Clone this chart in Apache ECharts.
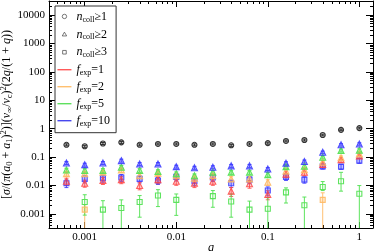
<!DOCTYPE html>
<html><head><meta charset="utf-8">
<script src="https://cdn.jsdelivr.net/npm/echarts@6/dist/echarts.min.js"></script>
<style>html,body{margin:0;padding:0;background:#fff}#c{width:374px;height:251px}</style>
</head><body><div id="c"></div>
<script>
// ---- data ----
const q = [0.000631,0.001,0.00158,0.00251,0.00398,0.00631,0.01,0.0158,0.0251,0.0398,0.0631,0.1,0.158,0.251,0.398,0.631,1];
// n_coll >= 1 (all f_exp coincide)
const nColl1    = [0.27,0.24,0.30,0.33,0.27,0.29,0.29,0.27,0.29,0.26,0.29,0.31,0.37,0.40,0.60,0.91,1.05];
const nColl1Err = [0.08,0.08,0.08,0.08,0.08,0.08,0.08,0.08,0.08,0.08,0.08,0.08,0.08,0.08,0.07,0.07,0.07];
// n_coll >= 2 (triangles)
const blueTri    = [0.062,0.054,0.062,0.075,0.057,0.057,0.046,0.042,0.044,0.049,0.049,0.038,0.061,0.070,0.147,0.27,0.29];
const blueTriErr = [0.12,0.12,0.12,0.12,0.12,0.12,0.12,0.12,0.12,0.12,0.12,0.12,0.12,0.12,0.10,0.10,0.10];
const greenTri    = [0.035,0.034,0.034,0.044,0.034,0.031,0.026,0.022,0.029,0.029,0.029,0.024,0.046,0.048,0.098,0.17,0.175];
const greenTriErr = [0.15,0.15,0.15,0.15,0.15,0.15,0.15,0.15,0.15,0.15,0.15,0.18,0.15,0.15,0.12,0.12,0.12];
const orangeTri    = [0.026,0.026,0.029,0.035,0.022,0.027,0.022,0.018,0.022,0.017,0.017,0.013,0.032,0.036,0.066,0.095,0.13];
const orangeTriErr = [0.18,0.18,0.18,0.18,0.2,0.18,0.18,0.2,0.18,0.2,0.2,0.22,0.18,0.18,0.15,0.15,0.15];
const redTri    = [0.014,0.012,0.015,0.016,0.010,0.016,0.014,0.012,0.014,0.0063,0.0114,0.0048,0.025,0.029,0.055,0.080,0.110];
const redTriErr = [0.28,0.28,0.28,0.28,0.3,0.28,0.28,0.3,0.28,0.35,0.3,0.35,0.25,0.25,0.2,0.2,0.2];
// n_coll >= 3 (squares)
const blueSq    = [0.012,0.017,0.018,0.019,0.017,0.015,0.020,0.014,0.019,0.012,0.016,0.0066,0.020,0.016,0.047,0.046,0.075];
const blueSqErr = [0.3,0.28,0.28,0.28,0.28,0.28,0.28,0.3,0.28,0.3,0.28,0.35,0.25,0.25,0.2,0.2,0.2];
const greenSq   = [null,0.0026,0.0014,0.0016,0.0026,0.0044,0.0031,null,0.0042,0.0027,0.0014,0.0015,0.0057,0.0020,0.0088,0.0141,0.0051];
const greenSqLo = [null,0.0009,0.0001,0.0001,0.00076,0.0018,0.00088,null,0.0017,0.00076,0.0001,0.0001,0.0024,0.0001,0.0066,0.0063,0.0001];
const greenSqHi = [null,0.0047,0.0029,0.0031,0.0044,0.0071,0.0050,null,0.0066,0.0050,0.0028,0.0037,0.0082,0.0039,0.0137,0.029,0.0099];
const orangeSq   = [null,0.0014,null,null,null,null,null,null,null,null,null,null,null,null,0.0031,null,null];
const orangeSqLo = [null,0.0001,null,null,null,null,null,null,null,null,null,null,null,null,0.0001,null,null];
const orangeSqHi = [null,0.0021,null,null,null,null,null,null,null,null,null,null,null,null,0.0055,null,null];

// ---- axis ticks ----
const xTickValues = [0.001,0.01,0.1,1];
const xTickLabels = ['0.001','0.01','0.1','1'];
const yTickValues = [0.001,0.01,0.1,1,10,100,1000,10000];
const yTickLabels = ['0.001','0.01','0.1','1','10','100','1000','10000'];
const legendNames = ['n1','n2','n3','f1','f2','f5','f10'];
const legendTexts = ['{i|n}{s|coll}{t|≥1}','{i|n}{s|coll}{t|≥2}','{i|n}{s|coll}{t|≥3}',
                     '{i|f}{s|exp}{t|=1}','{i|f}{s|exp}{t|=2}','{i|f}{s|exp}{t|=5}','{i|f}{s|exp}{t|=10}'];

const X_MIN = 4.07e-4, X_MAX = 1.41, Y_MIN = Math.pow(10,-3.5), Y_MAX = Math.pow(10,4.5);
function minorTicks(lo, hi) {
  const out = [];
  for (let e = -5; e <= 5; e++) for (let m = 2; m <= 9; m++) {
    const v = m * Math.pow(10, e);
    if (v > lo && v < hi) out.push(v);
  }
  return out;
}
const xMinor = minorTicks(X_MIN, X_MAX), yMinor = minorTicks(Y_MIN, Y_MAX);

const FONT = 'Liberation Serif';
const RED = 'rgba(255,70,70,0.85)', ORANGE = 'rgba(255,185,100,0.9)', GREEN = 'rgba(85,225,85,0.95)', BLUE = 'rgba(55,55,255,0.85)', BLACK = '#333';
const FILL = { red: 'rgba(255,70,70,0.25)', orange: 'rgba(255,185,100,0.3)', green: 'rgba(85,225,85,0.3)', blue: 'rgba(55,55,255,0.3)' };
const LEG_COLORS = { f1: '#ff5a5a', f2: '#ffc070', f5: '#5fe05f', f10: '#4848ee' };

function labelFor(vals, labels) {
  return function (v) {
    for (let i = 0; i < vals.length; i++) if (Math.abs(Math.log10(v) - Math.log10(vals[i])) < 1e-6) return labels[i];
    return '';
  };
}
function mkAxis(kind, pos, major) {
  const isX = kind === 'x';
  const min = isX ? X_MIN : Y_MIN, max = isX ? X_MAX : Y_MAX;
  const vals = isX ? xTickValues : yTickValues, labels = isX ? xTickLabels : yTickLabels;
  const main = major && (pos === 'bottom' || pos === 'left');
  const ax = {
    type: 'log', position: pos, min: min, max: max, offset: 0, gridIndex: 0,
    axisLine: { show: major, onZero: false, lineStyle: { color: '#000', width: 1 } },
    axisTick: { show: true, inside: true, length: major ? (isX ? 6 : 7) : 3,
      customValues: major ? vals : (isX ? xMinor : yMinor), lineStyle: { color: '#000', width: 1 } },
    axisLabel: { show: main, customValues: vals, formatter: labelFor(vals, labels),
      fontFamily: FONT, fontSize: 11, color: '#000', margin: 4 },
    splitLine: { show: false }, minorTick: { show: false }
  };
  if (main && isX) {
    ax.name = 'q'; ax.nameLocation = 'middle'; ax.nameGap = 14; ax.nameMoveOverlap = false;
    ax.nameTextStyle = { fontFamily: FONT, fontSize: 12, fontStyle: 'italic', color: '#000' };
  }
  if (main && !isX) {
    ax.name = '[{i|σ}/({i|π}({i|a}{sb|0} + {i|a}{sb|1}){sp|2})]({i|v}{sb|∞}/{i|v}{sb|c}){sp|2}(2{i|q}/(1 + {i|q}))';
    ax.nameLocation = 'middle'; ax.nameGap = 35; ax.nameRotate = 90; ax.nameMoveOverlap = false;
    ax.nameTextStyle = { fontFamily: FONT, fontSize: 12, color: '#000', lineHeight: 15,
      rich: { i: { fontFamily: FONT, fontSize: 12, fontStyle: 'italic', lineHeight: 15 },
              sb: { fontFamily: FONT, fontSize: 8.5, verticalAlign: 'bottom', lineHeight: 9 },
              sp: { fontFamily: FONT, fontSize: 8.5, verticalAlign: 'top', lineHeight: 9 } } };
  }
  return ax;
}

function errSeries(vals, lo, hi, color) {
  const data = [];
  q.forEach((x, i) => { if (vals[i] != null) data.push([x, vals[i], lo[i], hi[i]]); });
  return { type: 'custom', xAxisIndex: 0, yAxisIndex: 0, clip: true, silent: true, z: 2,
    encode: { x: 0, y: 1 }, data: data,
    renderItem: function (params, api) {
      const x = api.value(0);
      const p1 = api.coord([x, api.value(2)]), p2 = api.coord([x, api.value(3)]);
      const cw = 2, st = { stroke: color, lineWidth: 1 };
      return { type: 'group', children: [
        { type: 'line', shape: { x1: p1[0], y1: p1[1], x2: p2[0], y2: p2[1] }, style: st },
        { type: 'line', shape: { x1: p1[0] - cw, y1: p1[1], x2: p1[0] + cw, y2: p1[1] }, style: st },
        { type: 'line', shape: { x1: p2[0] - cw, y1: p2[1], x2: p2[0] + cw, y2: p2[1] }, style: st } ] };
    } };
}
function relErr(vals, err, color) {
  return errSeries(vals, vals.map((v, i) => v == null ? null : v * (1 - err[i])),
                         vals.map((v, i) => v == null ? null : v * (1 + err[i])), color);
}
function scat(vals, symbol, size, color, fill) {
  const data = [];
  q.forEach((x, i) => { if (vals[i] != null) data.push([x, vals[i]]); });
  return { type: 'scatter', xAxisIndex: 0, yAxisIndex: 0, symbol: symbol, symbolSize: size, silent: true, z: 3,
    data: data, itemStyle: { color: fill || 'rgba(0,0,0,0)', borderColor: color, borderWidth: 1.1, opacity: 1 } };
}

const series = [
  relErr(blueSq, blueSqErr, BLUE), scat(blueSq, 'rect', 5, BLUE, FILL.blue),
  relErr(redTri, redTriErr, RED), scat(redTri, 'triangle', 6, RED, FILL.red),
  relErr(orangeTri, orangeTriErr, ORANGE), scat(orangeTri, 'triangle', 6, ORANGE, FILL.orange),
  relErr(greenTri, greenTriErr, GREEN), scat(greenTri, 'triangle', 6, GREEN, FILL.green),
  relErr(blueTri, blueTriErr, BLUE), scat(blueTri, 'triangle', 6, BLUE, FILL.blue),
  errSeries(orangeSq, orangeSqLo, orangeSqHi, ORANGE), scat(orangeSq, 'rect', 5, ORANGE, FILL.orange),
  errSeries(greenSq, greenSqLo, greenSqHi, GREEN), scat(greenSq, 'rect', 5, GREEN),
  relErr(nColl1, nColl1Err, BLACK), scat(nColl1, 'circle', 5, BLACK, 'rgba(0,0,0,0.15)')
];
// legend-only series
legendNames.forEach(n => {
  series.push({ type: 'scatter', name: n, data: [], symbol: 'circle',
    itemStyle: { color: 'rgba(0,0,0,0)', borderColor: BLACK, borderWidth: 1 } });
});

const icons = {
  n1: 'path://M0,0M14,14M9.2,7A2.2,2.2,0,1,1,4.8,7A2.2,2.2,0,1,1,9.2,7Z',
  n2: 'path://M0,0M14,14M7,4.8L9.2,8.6L4.8,8.6Z',
  n3: 'path://M0,0M14,14M5.2,5.2L8.8,5.2L8.8,8.8L5.2,8.8Z',
  line: 'path://M0,0M14,14M0,6.3L14,6.3L14,7.7L0,7.7Z'
};
const legendData = legendNames.map(n => icons[n]
  ? { name: n, icon: icons[n], itemStyle: { color: 'rgba(0,0,0,0)', borderColor: '#444', borderWidth: 0.9 } }
  : { name: n, icon: icons.line, itemStyle: { color: LEG_COLORS[n], borderWidth: 0, opacity: 1 } });

const chart = echarts.init(document.getElementById('c'), null, { renderer: 'canvas' });
chart.setOption({
  animation: false,
  backgroundColor: '#fff',
  grid: { left: 49, right: 1, top: 1, bottom: 23, outerBoundsMode: 'none' },
  xAxis: [mkAxis('x', 'bottom', true), mkAxis('x', 'bottom', false), mkAxis('x', 'top', true), mkAxis('x', 'top', false)],
  yAxis: [mkAxis('y', 'left', true), mkAxis('y', 'left', false), mkAxis('y', 'right', true), mkAxis('y', 'right', false)],
  legend: {
    left: 55, top: 6, orient: 'vertical', itemWidth: 14, itemHeight: 14, itemGap: 3,
    padding: [3, 6, 5, 2], borderColor: '#333', borderWidth: 1, backgroundColor: '#fff',
    selectedMode: false, symbolKeepAspect: true,
    data: legendData,
    formatter: function (name) { return legendTexts[legendNames.indexOf(name)]; },
    textStyle: { fontFamily: FONT, fontSize: 12, color: '#000', lineHeight: 14,
      rich: { i: { fontFamily: FONT, fontSize: 12, fontStyle: 'italic', lineHeight: 14 },
              s: { fontFamily: FONT, fontSize: 8, verticalAlign: 'bottom', lineHeight: 9 },
              t: { fontFamily: FONT, fontSize: 12, lineHeight: 14 } } }
  },
  series: series
});
</script></body></html>
